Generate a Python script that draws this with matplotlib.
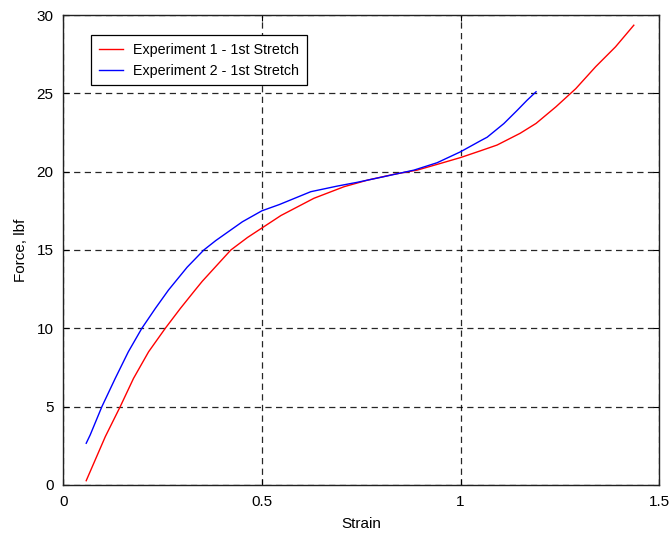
import numpy as np
import matplotlib
matplotlib.use('Agg')
import matplotlib.pyplot as plt

plt.rcParams['font.family'] = ['Liberation Sans', 'DejaVu Sans']

# Experiment 1 - 1st Stretch (red)
strain_1 = [0.058, 0.106, 0.1436, 0.177, 0.215, 0.257, 0.295, 0.332, 0.35, 0.422,
            0.464, 0.50, 0.548, 0.631, 0.707, 0.766, 0.832, 0.891, 0.95, 1.0,
            1.05, 1.092, 1.15, 1.19, 1.24, 1.29, 1.34, 1.39, 1.436]
force_1 = [0.27, 3.08, 5.0, 6.8, 8.5, 10.0, 11.27, 12.44, 13.0, 15.0,
           15.8, 16.4, 17.2, 18.3, 19.04, 19.46, 19.83, 20.1, 20.53, 20.9,
           21.33, 21.7, 22.45, 23.08, 24.14, 25.3, 26.7, 27.97, 29.35]

# Experiment 2 - 1st Stretch (blue)
strain_2 = [0.058, 0.068, 0.0975, 0.131, 0.164, 0.198, 0.232, 0.265, 0.312, 0.354,
            0.384, 0.451, 0.50, 0.544, 0.623, 0.69, 0.74, 0.807, 0.883, 0.941,
            1.0, 1.05, 1.067, 1.109, 1.142, 1.167, 1.19]
force_2 = [2.66, 3.19, 5.0, 6.8, 8.5, 10.0, 11.27, 12.44, 13.9, 15.0,
           15.6, 16.8, 17.5, 17.9, 18.72, 19.08, 19.32, 19.68, 20.1, 20.57,
           21.27, 21.97, 22.2, 23.07, 23.9, 24.55, 25.1]

labels = ['Experiment 1 - 1st Stretch', 'Experiment 2 - 1st Stretch']

fig = plt.figure(figsize=(6.72, 5.37), dpi=100)
ax = fig.add_axes([0.094, 0.097, 0.887, 0.875])

ax.plot(strain_1, force_1, color='red', lw=1.0, label=labels[0])
ax.plot(strain_2, force_2, color='blue', lw=1.0, label=labels[1])

ax.set_xlim(0, 1.5)
ax.set_ylim(0, 30)
ax.set_xticks([0, 0.5, 1, 1.5])
ax.set_xticklabels(['0', '0.5', '1', '1.5'])
ax.set_yticks(np.arange(0, 31, 5))

ax.grid(True, color='black', linestyle=(0, (5, 3.5)), linewidth=0.9, alpha=0.85)
ax.tick_params(direction='in', top=True, right=True, labelsize=11, length=4, pad=7)
for s in ax.spines.values():
    s.set_linewidth(1.0)
    s.set_color('#222222')

ax.set_xlabel('Strain', fontsize=11, labelpad=6)
ax.set_ylabel('Force, lbf', fontsize=11, labelpad=6)

leg = ax.legend(loc='upper left', bbox_to_anchor=(0.047, 0.957), fontsize=10.3,
                fancybox=False, framealpha=1, edgecolor='black',
                handlelength=1.7, handletextpad=0.65, borderpad=0.55,
                labelspacing=0.45, borderaxespad=0)
leg.get_frame().set_linewidth(0.9)

fig.savefig('out.png', dpi=100)
